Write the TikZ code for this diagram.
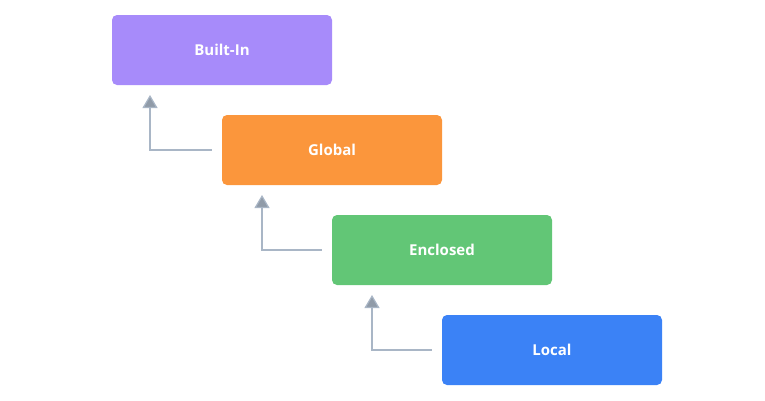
\documentclass[tikz,border=0pt]{standalone}
\usepackage{fontspec}
\setmainfont{Open Sans}
\usetikzlibrary{arrows.meta}
\definecolor{cp}{HTML}{A78BFA}
\definecolor{co}{HTML}{FB963C}
\definecolor{cg}{HTML}{62C676}
\definecolor{cb}{HTML}{3B82F6}
\definecolor{cl}{HTML}{A9B6C6}
\begin{document}
\begin{tikzpicture}[x=1pt,y=-1pt,
 box/.style={rounded corners=5pt,minimum width=220pt,minimum height=70pt,inner sep=0,text=white,font=\fontsize{15}{18}\selectfont\bfseries},
 conn/.style={draw=cl,line width=1.2pt,-{Triangle[width=15pt,length=13pt,fill=cl!85!black]}}]
\useasboundingbox (0,0) rectangle (765,400);
\node[box,fill=cp] (b) at (222,50) {Built-In};
\node[box,fill=co] (g) at (332,150) {Global};
\node[box,fill=cg] (e) at (442,250) {Enclosed};
\node[box,fill=cb] (l) at (552,350) {Local};
\coordinate (t1) at (150,95);
\coordinate (t2) at (262,195);
\coordinate (t3) at (372,295);
\draw[conn] ([xshift=-10pt]g.west) -| (t1);
\draw[conn] ([xshift=-10pt]e.west) -| (t2);
\draw[conn] ([xshift=-10pt]l.west) -| (t3);
\end{tikzpicture}
\end{document}
